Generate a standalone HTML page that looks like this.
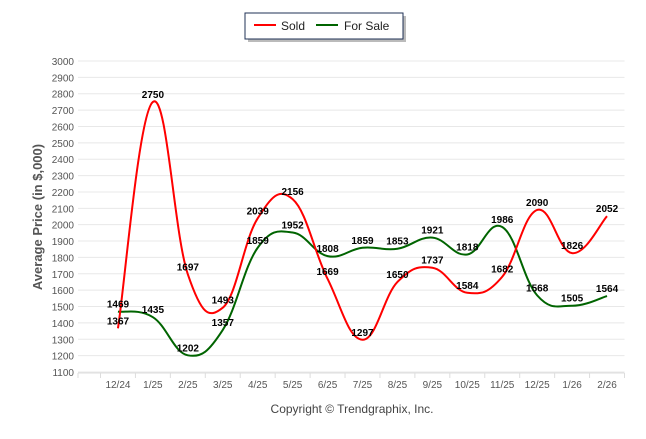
<!DOCTYPE html>
<html><head><meta charset="utf-8"><style>
body{margin:0;background:#fff;width:646px;height:434px;overflow:hidden}
text{font-family:"Liberation Sans",Arial,sans-serif}
</style></head><body>
<svg id="chart" width="646" height="434" xmlns="http://www.w3.org/2000/svg">
<g>
<rect x="248" y="16" width="158" height="26" fill="#bbb"/>
<rect x="245" y="13" width="158" height="26" fill="#fff" stroke="#1f3056" stroke-width="1"/>
<g><line x1="254" y1="25" x2="276" y2="25" stroke="#f00" stroke-width="2"/><text x="281" y="30" font-size="12" fill="#222">Sold</text></g>
<g><line x1="316" y1="25" x2="338" y2="25" stroke="#006400" stroke-width="2"/><text x="344" y="30" font-size="12" fill="#222">For Sale</text></g>
</g>
<g id="grid"></g>
<g id="yticks"></g>
<g id="xaxis"></g>
<text transform="translate(42,217) rotate(-90)" text-anchor="middle" font-size="13" font-weight="bold" fill="#555">Average Price (in $,000)</text>
<g id="series"></g>
<g id="labels"></g>
<text x="352" y="413" text-anchor="middle" font-size="12" fill="#444">Copyright © Trendgraphix, Inc.</text>
</svg>
<script>
const categories=["12/24","1/25","2/25","3/25","4/25","5/25","6/25","7/25","8/25","9/25","10/25","11/25","12/25","1/26","2/26"];
const soldValues=[1367,2750,1697,1493,2039,2156,1669,1297,1650,1737,1584,1682,2090,1826,2052];
const forSaleValues=[1469,1435,1202,1357,1859,1952,1808,1859,1853,1921,1818,1986,1568,1505,1564];
const yTicks=[1100,1200,1300,1400,1500,1600,1700,1800,1900,2000,2100,2200,2300,2400,2500,2600,2700,2800,2900,3000];
const NS="http://www.w3.org/2000/svg";
const plotL=100.5,plotR=624.5,gridL=78,y0=372,y1=61,vMin=1100,vMax=3000;
const step=(plotR-plotL)/categories.length;
function xPos(i){return plotL+step*(i+0.5);}
function yPos(v){return y0-(v-vMin)/(vMax-vMin)*(y0-y1);}
function mk(tag,attrs,parent){const e=document.createElementNS(NS,tag);for(const k in attrs)e.setAttribute(k,attrs[k]);parent.appendChild(e);return e;}
const grid=document.getElementById('grid'),yt=document.getElementById('yticks'),xa=document.getElementById('xaxis');
yTicks.forEach(v=>{
  const l=mk('line',{x1:gridL,x2:plotR,y1:yPos(v),y2:yPos(v),stroke:'#e8e8e8','stroke-width':1},grid);
  
  
  const t=mk('text',{x:74,y:yPos(v)+4,'text-anchor':'end','font-size':10,fill:'#555'},yt);
  t.textContent=v;
  
  
});
mk('line',{x1:gridL,x2:plotR,y1:y0+1,y2:y0+1,stroke:'#ddd'},xa);
for(let i=0;i<=categories.length;i++){mk('line',{x1:plotL+step*i,x2:plotL+step*i,y1:y0+1,y2:y0+6,stroke:'#ddd'},xa);}
mk('line',{x1:gridL,x2:gridL,y1:y0+1,y2:y0+6,stroke:'#ddd'},xa);
categories.forEach((c,i)=>{
  const t=mk('text',{x:xPos(i),y:388,'text-anchor':'middle','font-size':10,fill:'#555'},xa);
  t.textContent=c;
  
  
});
function spline(vals){
  const p=vals.map((v,i)=>[xPos(i),yPos(v)]);
  let d=`M${p[0][0]},${p[0][1]}`;
  for(let i=0;i<p.length-1;i++){
    const a=p[i-1]||p[i],b=p[i],c=p[i+1],e=p[i+2]||c;
    const t=0.2;
    const c1=[b[0]+(c[0]-a[0])*t,b[1]+(c[1]-a[1])*t];
    const c2=[c[0]-(e[0]-b[0])*t,c[1]-(e[1]-b[1])*t];
    d+=` C${c1[0]},${c1[1]} ${c2[0]},${c2[1]} ${c[0]},${c[1]}`;
  }
  return d;
}
const series=document.getElementById('series'),labels=document.getElementById('labels');
const fs=mk('path',{d:spline(forSaleValues),fill:'none',stroke:'#006400','stroke-width':2},series);


const sd=mk('path',{d:spline(soldValues),fill:'none',stroke:'#f00','stroke-width':2},series);


function addLabels(vals,name){
  vals.forEach((v,i)=>{
    const t=mk('text',{x:xPos(i),y:yPos(v)-4,'text-anchor':'middle','font-size':10,'font-weight':'bold',fill:'#000'},labels);
    t.textContent=v;
    
    
  });
}
addLabels(forSaleValues,'for-sale-value-label');
addLabels(soldValues,'sold-value-label');
</script>
</body></html>
